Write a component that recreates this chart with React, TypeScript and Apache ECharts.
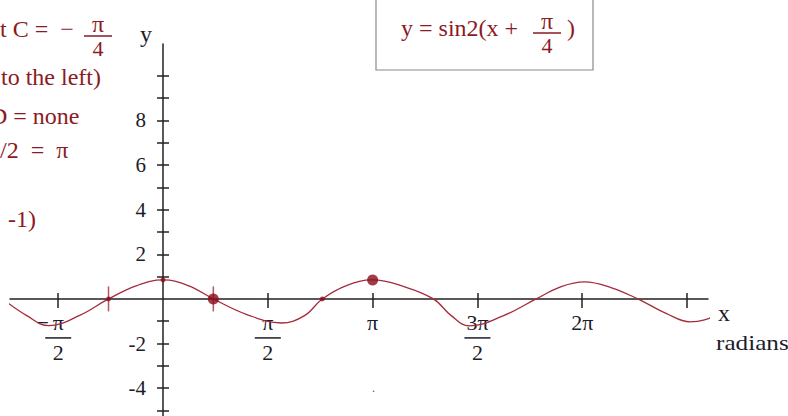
import React, { useEffect, useRef } from "react";
import * as echarts from "echarts";

// x values are in units of π/2 radians
const curveX = [-1.52, -1.3, -1.09, -0.8, -0.52, -0.25, 0, 0.24, 0.48, 0.8, 1.13, 1.35, 1.52, 1.75, 2, 2.3, 2.58, 2.75, 2.92, 3.25, 3.56, 3.8, 4.02, 4.28, 4.53, 4.8, 5.03, 5.3, 5.52];
const curveY = [-0.04, -0.75, -1.2, -0.75, 0, 0.6, 0.85, 0.6, 0, -0.7, -1.08, -0.75, 0, 0.6, 0.85, 0.55, 0, -0.75, -1.21, -0.75, 0, 0.55, 0.76, 0.5, 0, -0.65, -1.03, -0.7, -0.04];
const smallDotX = [-0.52, 0, 1.52];
const smallDotY = [0, 0.85, 0];
const bigDotX = [0.48, 2];
const bigDotY = [0, 0.85];
const redMarkX = [-0.52, 0.48];
const xTickValues = [-1, 1, 2, 3, 4, 5];
const xLabelValues = [-1, 1, 2, 3, 4];
const yTickValues = [-5, -4, -3, -2, -1, 1, 2, 3, 4, 5, 6, 7, 8, 9, 10];
const yLabelValues = [-4, -2, 2, 4, 6, 8];

const RED = "#8b1a24";
const CURVE = "#a52a3a";
const DOT = "#8b0a1a";
const INK = "#1c1c2c";
const FONT = "Liberation Serif";

function xLabel(v: number): string {
  if (v === -1) return "{m|−}{n|π}{p|}\n{bar| }\n{d|2}";
  if (v === 1) return "{n|π}\n{bar| }\n{d|2}";
  if (v === 2) return "{n|π}";
  if (v === 3) return "{n|3π}\n{bar| }\n{d|2}";
  if (v === 4) return "{n|2π}";
  return "";
}

function txt(x: number, y: number, text: string, color: string, size: number, sx = 1) {
  return {
    type: "text",
    x,
    y,
    scaleX: sx,
    style: { text, fill: color, font: `${size}px ${FONT}`, align: "left", verticalAlign: "middle" },
  };
}

function frac(x: number, y: number, num: string, den: string, color: string, w: number) {
  return {
    type: "group",
    x,
    y,
    children: [
      { type: "text", x: 0, y: 0, style: { text: num, fill: color, font: `24px ${FONT}`, align: "center", verticalAlign: "bottom" } },
      { type: "line", shape: { x1: -w / 2, y1: 0, x2: w / 2, y2: 0 }, style: { stroke: color, lineWidth: 1.5 } },
      { type: "text", x: 0, y: 1, style: { text: den, fill: color, font: `22px ${FONT}`, align: "center", verticalAlign: "top" } },
    ],
  };
}

export default function App() {
  const ref = useRef<HTMLDivElement>(null);
  useEffect(() => {
    if (!ref.current) return;
    const chart = echarts.init(ref.current, undefined, { renderer: "svg" });
    const W = 788;
    const H = 416;
    const gL = 10;
    const gR = 80;
    const gT = 44;
    const gB = 0;
    const xMin = -1.46;
    const xMax = 5.2;
    const yMin = -5.25;
    const yMax = 11.43;
    const gW = W - gL - gR;
    const gH = H - gT - gB;
    // place axes through the origin (axis offset measured from grid edge)
    const xZeroFromLeft = ((0 - xMin) / (xMax - xMin)) * gW;
    const yZeroFromBottom = ((0 - yMin) / (yMax - yMin)) * gH;
    const lineStyle = { color: "#222", width: 1.5 };
    chart.setOption({
      animation: false,
      grid: { left: gL, right: gR, top: gT, bottom: gB, outerBoundsMode: "none" },
      xAxis: [
        {
          type: "value",
          min: xMin,
          max: xMax,
          position: "bottom",
          offset: -yZeroFromBottom,
          axisLine: { onZero: false, lineStyle },
          splitLine: { show: false },
          axisTick: { customValues: xTickValues, length: 9, lineStyle },
          axisLabel: {
            customValues: xLabelValues,
            margin: 13,
            formatter: (v: number) => xLabel(Math.round(v)),
            color: INK,
            fontFamily: FONT,
            fontSize: 22,
            rich: {
              n: { fontFamily: FONT, fontSize: 22, color: INK, lineHeight: 22 },
              m: { fontFamily: FONT, fontSize: 22, color: INK, lineHeight: 22, width: 20 },
              p: { width: 20, lineHeight: 22 },
              d: { fontFamily: FONT, fontSize: 22, color: INK, lineHeight: 22 },
              bar: { width: 26, height: 1.5, backgroundColor: INK, lineHeight: 8, fontSize: 1 },
            },
          },
        },
        {
          type: "value",
          min: xMin,
          max: xMax,
          position: "bottom",
          offset: -yZeroFromBottom,
          axisLine: { onZero: false, show: false },
          splitLine: { show: false },
          axisTick: { inside: true, customValues: xTickValues, length: 6, lineStyle },
          axisLabel: { show: false },
        },
      ],
      yAxis: [
        {
          type: "value",
          min: yMin,
          max: yMax,
          position: "left",
          offset: -xZeroFromLeft,
          axisLine: { onZero: false, lineStyle },
          splitLine: { show: false },
          axisTick: { customValues: yTickValues, length: 6, lineStyle },
          axisLabel: {
            customValues: yLabelValues,
            margin: 17,
            color: INK,
            fontFamily: FONT,
            fontSize: 21,
          },
        },
        {
          type: "value",
          min: yMin,
          max: yMax,
          position: "left",
          offset: -xZeroFromLeft,
          axisLine: { onZero: false, show: false },
          splitLine: { show: false },
          axisTick: { inside: true, customValues: yTickValues, length: 6, lineStyle },
          axisLabel: { show: false },
        },
      ],
      series: [
        {
          type: "line",
          data: curveX.map((x, i) => [x, curveY[i]]),
          smooth: 0.4,
          showSymbol: false,
          clip: false,
          lineStyle: { color: CURVE, width: 1.3 },
          z: 3,
        },
        {
          type: "scatter",
          data: redMarkX.map((x) => [x, 0]),
          symbol: "rect",
          symbolSize: [1.5, 25],
          itemStyle: { color: CURVE },
          z: 4,
        },
        {
          type: "scatter",
          data: smallDotX.map((x, i) => [x, smallDotY[i]]),
          symbolSize: 5,
          itemStyle: { color: DOT },
          z: 5,
        },
        {
          type: "scatter",
          data: bigDotX.map((x, i) => [x, bigDotY[i]]),
          symbolSize: 11,
          itemStyle: { color: DOT },
          z: 5,
        },
      ],
      graphic: [
        txt(140, 34, "y", INK, 24),
        txt(718, 313, "x", INK, 24),
        txt(716, 343, "radians", INK, 21, 1.2),
        // equation box
        { type: "rect", shape: { x: 376, y: -2, width: 217, height: 72 }, style: { fill: "#fff", stroke: "#8a8a8a", lineWidth: 1.2 } },
        txt(401, 28, "y = sin2(x +", RED, 24),
        frac(547, 33, "π", "4", RED, 28),
        txt(567, 28, ")", RED, 24),
        // left notes (cropped at the page edge, as in the reference)
        txt(0, 29, "t C =  −", RED, 24),
        frac(98, 36, "π", "4", RED, 28),
        txt(1, 77, "to the left)", RED, 24),
        txt(-10, 116, "D = none", RED, 24),
        txt(0, 150, "/2  =  π", RED, 24),
        txt(8, 219, "-1)", RED, 24),
        txt(372, 388, ".", "#555", 12),
      ],
    });
    return () => chart.dispose();
  }, []);
  return (
    <div
      ref={ref}
      style={{ position: "fixed", left: 0, top: 0, width: 788, height: 416, background: "#fff" }}
    />
  );
}
